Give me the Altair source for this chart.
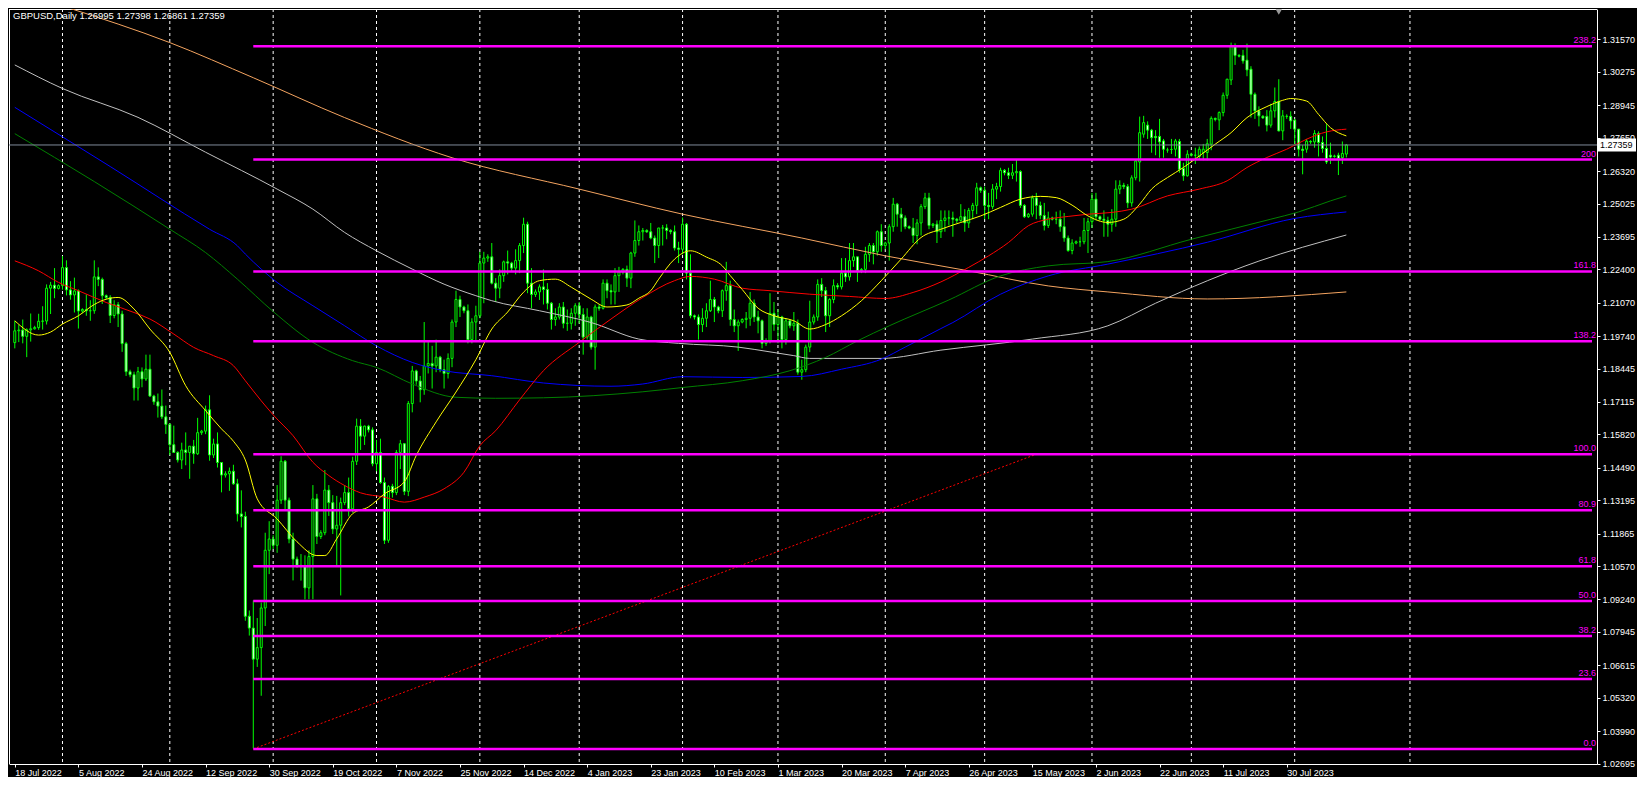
import altair as alt
import pandas as pd

# ---------------- data (one bar per trading day incl. Sunday bars) -------------
OPEN = [
 1.1948, 1.1995, 1.1998, 1.1973, 1.1999, 1.2003,
 1.2008, 1.2033, 1.2034, 1.2165, 1.2177, 1.2164,
 1.2175, 1.2247, 1.2158, 1.2138, 1.2154, 1.2074,
 1.2080, 1.2075, 1.2075, 1.2210, 1.2200, 1.2135,
 1.2128, 1.2056, 1.2099, 1.2062, 1.1944, 1.1832,
 1.1820, 1.1767, 1.1832, 1.1803, 1.1842, 1.1735,
 1.1712, 1.1695, 1.1652, 1.1622, 1.1541, 1.1510,
 1.1480, 1.1520, 1.1510, 1.1535, 1.1505, 1.1589,
 1.1595, 1.1680, 1.1500, 1.1544, 1.1470, 1.1420,
 1.1425, 1.1435, 1.1385, 1.1265, 1.1255, 1.0857,
 1.0810, 1.0686, 1.0732, 1.0890, 1.1120, 1.1165,
 1.1140, 1.1320, 1.1475, 1.1320, 1.1165, 1.1085,
 1.1060, 1.1055, 1.0970, 1.1095, 1.1325, 1.1175,
 1.1190, 1.1360, 1.1310, 1.1205, 1.1220, 1.1310,
 1.1350, 1.1285, 1.1475, 1.1615, 1.1575, 1.1615,
 1.1600, 1.1465, 1.1510, 1.1390, 1.1160, 1.1375,
 1.1350, 1.1510, 1.1545, 1.1355, 1.1705, 1.1835,
 1.1795, 1.1760, 1.1855, 1.1865, 1.1855, 1.1890,
 1.1840, 1.1825, 1.1885, 1.2030, 1.2120, 1.2090,
 1.2075, 1.1960, 1.2030, 1.2055, 1.2265, 1.2285,
 1.2290, 1.2185, 1.2165, 1.2215, 1.2270, 1.2265,
 1.2245, 1.2275, 1.2335, 1.2420, 1.2185, 1.2140,
 1.2150, 1.2170, 1.2160, 1.2105, 1.2040,
 1.2050, 1.2090, 1.2025, 1.2025, 1.2065,
 1.2095, 1.2060, 1.1970, 1.2050, 1.1930, 1.2090,
 1.2085, 1.2185, 1.2155, 1.2150, 1.2215, 1.2230,
 1.2240, 1.2205, 1.2305, 1.2355, 1.2390, 1.2395,
 1.2390, 1.2365, 1.2335, 1.2405, 1.2405, 1.2395,
 1.2390, 1.2325, 1.2320, 1.2420, 1.2225, 1.2055,
 1.2050, 1.2020, 1.2045, 1.2075, 1.2120, 1.2090,
 1.2075, 1.2155, 1.2175, 1.2040, 1.2015, 1.2030,
 1.2040, 1.2045, 1.2105, 1.2050, 1.2035, 1.1945,
 1.1955, 1.2065, 1.2020, 1.2050, 1.1960, 1.2035,
 1.2015, 1.2025, 1.1830, 1.1840, 1.1930, 1.2030,
 1.2050, 1.2180, 1.2155, 1.2055, 1.2120, 1.2175,
 1.2170, 1.2225, 1.2210, 1.2275, 1.2290, 1.2235,
 1.2240, 1.2300, 1.2335, 1.2310, 1.2390, 1.2335,
 1.2345, 1.2410, 1.2500, 1.2460, 1.2445, 1.2410,
 1.2405, 1.2375, 1.2425, 1.2490, 1.2525, 1.2415,
 1.2420, 1.2390, 1.2435, 1.2445, 1.2445, 1.2440,
 1.2435, 1.2450, 1.2425, 1.2475, 1.2495, 1.2565,
 1.2555, 1.2495, 1.2490, 1.2560, 1.2570, 1.2635,
 1.2625, 1.2615, 1.2625, 1.2630, 1.2495, 1.2450,
 1.2460, 1.2525, 1.2495, 1.2455, 1.2415, 1.2445,
 1.2440, 1.2440, 1.2410, 1.2365, 1.2315, 1.2345,
 1.2350, 1.2350, 1.2395, 1.2430, 1.2520, 1.2450,
 1.2440, 1.2435, 1.2420, 1.2440, 1.2560, 1.2575,
 1.2570, 1.2505, 1.2605, 1.2668, 1.2779,
 1.2815, 1.2795, 1.2770, 1.2770, 1.2752, 1.2716,
 1.2718, 1.2719, 1.2750, 1.2642, 1.2613, 1.2699,
 1.2695, 1.2690, 1.2706, 1.2706, 1.2739, 1.2842,
 1.2836, 1.2865, 1.2934, 1.2995, 1.3130, 1.3093,
 1.3093, 1.3074, 1.3038, 1.2938, 1.2872, 1.2850,
 1.2850, 1.2815, 1.2872, 1.2909, 1.2792, 1.2850,
 1.2850, 1.2835, 1.2799, 1.2719, 1.2719, 1.2750,
 1.2748, 1.2782, 1.2746, 1.2722, 1.2695, 1.2690,
 1.2695, 1.2685, 1.26995,
]
HIGH = [
 1.2035, 1.2018, 1.2040, 1.2005, 1.2064, 1.2015,
 1.2063, 1.2093, 1.2180, 1.2190, 1.2245, 1.2180,
 1.2293, 1.2276, 1.2193, 1.2207, 1.2160, 1.2085,
 1.2140, 1.2117, 1.2276, 1.2248, 1.2207, 1.2140,
 1.2137, 1.2117, 1.2110, 1.2075, 1.1951, 1.1840,
 1.1832, 1.1851, 1.1849, 1.1900, 1.1900, 1.1740,
 1.1745, 1.1761, 1.1697, 1.1626, 1.1617, 1.1515,
 1.1549, 1.1590, 1.1535, 1.1560, 1.1648, 1.1600,
 1.1697, 1.1738, 1.1565, 1.1590, 1.1470, 1.1435,
 1.1450, 1.1461, 1.1405, 1.1359, 1.1274, 1.0880,
 1.0920, 1.0850, 1.0912, 1.1190, 1.1236, 1.1180,
 1.1380, 1.1495, 1.1480, 1.1330, 1.1190, 1.1095,
 1.1105, 1.1100, 1.1120, 1.1380, 1.1345, 1.1200,
 1.1440, 1.1380, 1.1340, 1.1337, 1.1330, 1.1380,
 1.1410, 1.1493, 1.1645, 1.1643, 1.1617, 1.1620,
 1.1610, 1.1560, 1.1565, 1.1410, 1.1380, 1.1385,
 1.1520, 1.1560, 1.1548, 1.1715, 1.1855, 1.1840,
 1.1815, 1.2030, 1.1955, 1.1935, 1.1960, 1.1895,
 1.1880, 1.1905, 1.2040, 1.2155, 1.2135, 1.2095,
 1.2100, 1.2045, 1.2095, 1.2310, 1.2310, 1.2300,
 1.2345, 1.2205, 1.2240, 1.2275, 1.2315, 1.2270,
 1.2320, 1.2345, 1.2446, 1.2430, 1.2245, 1.2160,
 1.2180, 1.2240, 1.2185, 1.2110, 1.2085,
 1.2105, 1.2110, 1.2080, 1.2085, 1.2105,
 1.2110, 1.2085, 1.2085, 1.2055, 1.2100, 1.2100,
 1.2200, 1.2200, 1.2180, 1.2245, 1.2250, 1.2245,
 1.2255, 1.2310, 1.2435, 1.2415, 1.2405, 1.2400,
 1.2425, 1.2375, 1.2405, 1.2417, 1.2420, 1.2400,
 1.2415, 1.2350, 1.2447, 1.2425, 1.2300, 1.2060,
 1.2060, 1.2085, 1.2105, 1.2195, 1.2130, 1.2095,
 1.2160, 1.2270, 1.2195, 1.2080, 1.2040, 1.2045,
 1.2070, 1.2150, 1.2120, 1.2075, 1.2040, 1.1965,
 1.2145, 1.2110, 1.2080, 1.2055, 1.2045, 1.2040,
 1.2070, 1.2040, 1.1880, 1.1940, 1.2115, 1.2060,
 1.2200, 1.2205, 1.2170, 1.2125, 1.2200, 1.2185,
 1.2285, 1.2285, 1.2345, 1.2345, 1.2290, 1.2245,
 1.2330, 1.2345, 1.2345, 1.2395, 1.2420, 1.2350,
 1.2420, 1.2525, 1.2505, 1.2485, 1.2455, 1.2415,
 1.2445, 1.2440, 1.2500, 1.2545, 1.2545, 1.2425,
 1.2435, 1.2475, 1.2475, 1.2475, 1.2470, 1.2445,
 1.2500, 1.2480, 1.2485, 1.2505, 1.2585, 1.2570,
 1.2570, 1.2545, 1.2580, 1.2585, 1.2645, 1.2640,
 1.2645, 1.2660, 1.2680, 1.2635, 1.2500, 1.2465,
 1.2535, 1.2545, 1.2510, 1.2505, 1.2470, 1.2450,
 1.2470, 1.2475, 1.2465, 1.2375, 1.2360, 1.2355,
 1.2370, 1.2445, 1.2445, 1.2545, 1.2545, 1.2455,
 1.2475, 1.2450, 1.2480, 1.2595, 1.2595, 1.2585,
 1.2580, 1.2615, 1.2680, 1.2849, 1.2852,
 1.2830, 1.2800, 1.2795, 1.2840, 1.2760, 1.2725,
 1.2760, 1.2760, 1.2760, 1.2665, 1.2715, 1.2705,
 1.2725, 1.2730, 1.2740, 1.2760, 1.2850, 1.2845,
 1.2870, 1.2945, 1.3000, 1.3144, 1.3141, 1.3098,
 1.3115, 1.3140, 1.3050, 1.2945, 1.2890, 1.2855,
 1.2875, 1.2900, 1.2965, 1.2998, 1.2875, 1.2858,
 1.2870, 1.2840, 1.2800, 1.2735, 1.2760, 1.2755,
 1.2795, 1.2790, 1.2770, 1.2819, 1.2745, 1.2697,
 1.2705, 1.2750, 1.27398,
]
LOW = [
 1.1925, 1.1950, 1.1945, 1.1890, 1.1952, 1.2000,
 1.1999, 1.2000, 1.2020, 1.2062, 1.2125, 1.2160,
 1.2159, 1.2136, 1.2119, 1.2068, 1.2004, 1.2065,
 1.2055, 1.2035, 1.2063, 1.2173, 1.2102, 1.2120,
 1.2026, 1.2045, 1.2010, 1.1911, 1.1815, 1.1810,
 1.1717, 1.1717, 1.1770, 1.1795, 1.1731, 1.1700,
 1.1649, 1.1643, 1.1584, 1.1500, 1.1509, 1.1470,
 1.1444, 1.1459, 1.1405, 1.1465, 1.1500, 1.1580,
 1.1583, 1.1477, 1.1488, 1.1450, 1.1351, 1.1410,
 1.1357, 1.1381, 1.1235, 1.1211, 1.0839, 1.0780,
 1.0330, 1.0655, 1.0540, 1.0818, 1.1025, 1.1125,
 1.1110, 1.1305, 1.1283, 1.1148, 1.1000, 1.1050,
 1.0999, 1.0924, 1.0925, 1.0925, 1.1145, 1.1165,
 1.1180, 1.1257, 1.1185, 1.1060, 1.0940, 1.1300,
 1.1255, 1.1270, 1.1460, 1.1520, 1.1540, 1.1590,
 1.1455, 1.1435, 1.1385, 1.1145, 1.1150, 1.1330,
 1.1340, 1.1444, 1.1340, 1.1336, 1.1670, 1.1780,
 1.1710, 1.1740, 1.1825, 1.1765, 1.1830, 1.1830,
 1.1765, 1.1805, 1.1850, 1.2010, 1.2050, 1.2065,
 1.1945, 1.1945, 1.1950, 1.2045, 1.2105, 1.2270,
 1.2180, 1.2110, 1.2125, 1.2190, 1.2220, 1.2230,
 1.2220, 1.2225, 1.2305, 1.2145, 1.2085, 1.2130,
 1.2118, 1.2100, 1.2080, 1.2000, 1.2015,
 1.2040, 1.2005, 1.1995, 1.2000, 1.2015,
 1.2025, 1.1900, 1.1960, 1.1920, 1.1840, 1.2075,
 1.2080, 1.2125, 1.2100, 1.2100, 1.2150, 1.2220,
 1.2170, 1.2165, 1.2290, 1.2335, 1.2355, 1.2385,
 1.2360, 1.2265, 1.2285, 1.2335, 1.2360, 1.2380,
 1.2315, 1.2265, 1.2300, 1.2200, 1.2045, 1.2040,
 1.1960, 1.1990, 1.2010, 1.2070, 1.2030, 1.2065,
 1.2050, 1.2115, 1.2015, 1.1990, 1.1915, 1.2025,
 1.2005, 1.2015, 1.2030, 1.1985, 1.1925, 1.1935,
 1.1945, 1.1995, 1.1945, 1.1925, 1.1940, 1.2005,
 1.1995, 1.1820, 1.1800, 1.1830, 1.1910, 1.2020,
 1.2035, 1.2130, 1.1990, 1.2010, 1.2105, 1.2160,
 1.2160, 1.2190, 1.2195, 1.2250, 1.2190, 1.2225,
 1.2225, 1.2270, 1.2260, 1.2295, 1.2310, 1.2320,
 1.2275, 1.2390, 1.2410, 1.2390, 1.2400, 1.2400,
 1.2345, 1.2340, 1.2375, 1.2480, 1.2400, 1.2405,
 1.2345, 1.2365, 1.2390, 1.2415, 1.2370, 1.2425,
 1.2430, 1.2390, 1.2405, 1.2440, 1.2460, 1.2545,
 1.2440, 1.2440, 1.2480, 1.2520, 1.2550, 1.2615,
 1.2600, 1.2600, 1.2590, 1.2485, 1.2445, 1.2445,
 1.2450, 1.2440, 1.2440, 1.2395, 1.2405, 1.2435,
 1.2420, 1.2390, 1.2350, 1.2310, 1.2300, 1.2340,
 1.2330, 1.2340, 1.2305, 1.2405, 1.2435, 1.2435,
 1.2370, 1.2370, 1.2390, 1.2410, 1.2540, 1.2560,
 1.2485, 1.2490, 1.2595, 1.2590, 1.2765,
 1.2760, 1.2705, 1.2695, 1.2685, 1.2685, 1.2705,
 1.2700, 1.2690, 1.2625, 1.2593, 1.2610, 1.2690,
 1.2660, 1.2680, 1.2675, 1.2675, 1.2715, 1.2830,
 1.2795, 1.2850, 1.2920, 1.2975, 1.3055, 1.3085,
 1.3060, 1.3010, 1.2845, 1.2840, 1.2810, 1.2840,
 1.2790, 1.2805, 1.2845, 1.2790, 1.2755, 1.2840,
 1.2800, 1.2740, 1.2690, 1.2619, 1.2705, 1.2740,
 1.2725, 1.2690, 1.2705, 1.2660, 1.2660, 1.2685,
 1.2616, 1.2660, 1.26861,
]
CLOSE = [
 1.1995, 1.1998, 1.1973, 1.1999, 1.2003, 1.2008,
 1.2033, 1.2034, 1.2165, 1.2177, 1.2164, 1.2175,
 1.2247, 1.2158, 1.2138, 1.2154, 1.2074, 1.2080,
 1.2075, 1.2075, 1.2210, 1.2200, 1.2135, 1.2128,
 1.2056, 1.2099, 1.2062, 1.1944, 1.1832, 1.1820,
 1.1767, 1.1832, 1.1803, 1.1842, 1.1735, 1.1712,
 1.1695, 1.1652, 1.1622, 1.1541, 1.1510, 1.1480,
 1.1520, 1.1510, 1.1535, 1.1505, 1.1589, 1.1595,
 1.1680, 1.1500, 1.1544, 1.1470, 1.1420, 1.1425,
 1.1435, 1.1385, 1.1265, 1.1255, 1.0857, 1.0810,
 1.0686, 1.0732, 1.0890, 1.1120, 1.1165, 1.1140,
 1.1320, 1.1475, 1.1320, 1.1165, 1.1085, 1.1060,
 1.1055, 1.0970, 1.1095, 1.1325, 1.1175, 1.1190,
 1.1360, 1.1310, 1.1205, 1.1220, 1.1310, 1.1350,
 1.1285, 1.1475, 1.1615, 1.1575, 1.1615, 1.1600,
 1.1465, 1.1510, 1.1390, 1.1160, 1.1375, 1.1350,
 1.1510, 1.1545, 1.1355, 1.1705, 1.1835, 1.1795,
 1.1760, 1.1855, 1.1865, 1.1855, 1.1890, 1.1840,
 1.1825, 1.1885, 1.2030, 1.2120, 1.2090, 1.2075,
 1.1960, 1.2030, 1.2055, 1.2265, 1.2285, 1.2290,
 1.2185, 1.2165, 1.2215, 1.2270, 1.2265, 1.2245,
 1.2275, 1.2335, 1.2420, 1.2185, 1.2140, 1.2150,
 1.2170, 1.2160, 1.2105, 1.2040, 1.2050,
 1.2090, 1.2025, 1.2025, 1.2065, 1.2095,
 1.2060, 1.1970, 1.2050, 1.1930, 1.2090, 1.2085,
 1.2185, 1.2155, 1.2150, 1.2215, 1.2230, 1.2240,
 1.2205, 1.2305, 1.2355, 1.2390, 1.2395, 1.2390,
 1.2365, 1.2335, 1.2405, 1.2405, 1.2395, 1.2390,
 1.2325, 1.2320, 1.2420, 1.2225, 1.2055, 1.2050,
 1.2020, 1.2045, 1.2075, 1.2120, 1.2090, 1.2075,
 1.2155, 1.2175, 1.2040, 1.2015, 1.2030, 1.2040,
 1.2045, 1.2105, 1.2050, 1.2035, 1.1945, 1.1955,
 1.2065, 1.2020, 1.2050, 1.1960, 1.2035, 1.2015,
 1.2025, 1.1830, 1.1840, 1.1930, 1.2030, 1.2050,
 1.2180, 1.2155, 1.2055, 1.2120, 1.2175, 1.2170,
 1.2225, 1.2210, 1.2275, 1.2290, 1.2235, 1.2240,
 1.2300, 1.2335, 1.2310, 1.2390, 1.2335, 1.2345,
 1.2410, 1.2500, 1.2460, 1.2445, 1.2410, 1.2405,
 1.2375, 1.2425, 1.2490, 1.2525, 1.2415, 1.2420,
 1.2390, 1.2435, 1.2445, 1.2445, 1.2440, 1.2435,
 1.2450, 1.2425, 1.2475, 1.2495, 1.2565, 1.2555,
 1.2495, 1.2490, 1.2560, 1.2570, 1.2635, 1.2625,
 1.2615, 1.2625, 1.2630, 1.2495, 1.2450, 1.2460,
 1.2525, 1.2495, 1.2455, 1.2415, 1.2445, 1.2440,
 1.2440, 1.2410, 1.2365, 1.2315, 1.2345, 1.2350,
 1.2350, 1.2395, 1.2430, 1.2520, 1.2450, 1.2440,
 1.2435, 1.2420, 1.2440, 1.2560, 1.2575, 1.2570,
 1.2505, 1.2605, 1.2672, 1.2785, 1.2825,
 1.2795, 1.2765, 1.2765, 1.2748, 1.2719, 1.2716,
 1.2718, 1.2752, 1.2639, 1.2613, 1.2699, 1.2695,
 1.2695, 1.2719, 1.2719, 1.2741, 1.2842, 1.2838,
 1.2865, 1.2934, 1.2998, 1.3130, 1.3093, 1.3090,
 1.3071, 1.3035, 1.2938, 1.2872, 1.2852, 1.2844,
 1.2815, 1.2872, 1.2909, 1.2792, 1.2852, 1.2850,
 1.2832, 1.2799, 1.2719, 1.2714, 1.2751, 1.2748,
 1.2782, 1.2746, 1.2722, 1.2668, 1.2688, 1.2692,
 1.2682, 1.2702, 1.27359,
]

# moving averages: vertices (bar index, price)
YELLOW_BAR = [0, 6, 9, 12, 16, 20, 23, 26, 30, 34, 39, 43, 48, 52, 55, 58, 61, 66, 71, 76, 78, 81, 85, 89, 93,
              98, 101, 106, 111, 116, 120, 124, 128, 132, 136, 140, 145, 149, 154, 157, 160, 162, 166, 170, 174,
              178, 180, 183, 187, 191, 196, 200, 204, 208, 213, 218, 223, 228, 233, 238, 243, 248, 253, 258, 262,
              266, 270, 275, 279, 283, 286, 290, 294, 298, 302, 306, 310, 315, 319, 321, 325, 328, 331, 335]
YELLOW_PRICE = [1.2035, 1.1978, 1.1990, 1.2022, 1.2055, 1.2100, 1.2121, 1.2128, 1.2082, 1.2002, 1.1909, 1.1776,
                1.1677, 1.1604, 1.1555, 1.1480, 1.1325, 1.1245, 1.1154, 1.1099, 1.1099, 1.1166, 1.1266, 1.1293,
                1.1345, 1.1393, 1.1498, 1.1632, 1.1751, 1.1880, 1.2002, 1.2070, 1.2149, 1.2195, 1.2201, 1.2169,
                1.2121, 1.2090, 1.2098, 1.2125, 1.2155, 1.2201, 1.2281, 1.2314, 1.2289, 1.2254, 1.2215, 1.2160,
                1.2085, 1.2055, 1.2035, 1.2002, 1.2020, 1.2055, 1.2115, 1.2195, 1.2281, 1.2367, 1.2400, 1.2427,
                1.2453, 1.2487, 1.2520, 1.2531, 1.2526, 1.2496, 1.2453, 1.2427, 1.2440, 1.2500, 1.2560, 1.2606,
                1.2646, 1.2692, 1.2739, 1.2785, 1.2845, 1.2889, 1.2914, 1.2921, 1.2911, 1.2858, 1.2805, 1.2772]
RED_BAR = [0, 6, 11, 16, 23, 30, 34, 40, 45, 50, 55, 58, 62, 65, 70, 75, 79, 83, 87, 93, 98, 103, 108, 113, 117,
           121, 127, 133, 142, 150, 158, 166, 170, 176, 183, 190, 200, 210, 219, 226, 233, 240, 245, 250, 255,
           260, 265, 270, 276, 281, 290, 298, 305, 310, 315, 320, 325, 330, 335]
RED_PRICE = [1.2274, 1.2234, 1.2188, 1.2155, 1.2108, 1.2068, 1.2042, 1.1982, 1.1929, 1.1896, 1.1856, 1.1796,
             1.1716, 1.1660, 1.1577, 1.1471, 1.1418, 1.1378, 1.1349, 1.1332, 1.1312, 1.1332, 1.1365, 1.1431,
             1.1537, 1.1597, 1.1720, 1.1836, 1.1949, 1.2042, 1.2128, 1.2195, 1.2212, 1.2201, 1.2165, 1.2155,
             1.2141, 1.2132, 1.2124, 1.2148, 1.2190, 1.2248, 1.2294, 1.2347, 1.2414, 1.2440, 1.2451, 1.2460,
             1.2467, 1.2480, 1.2533, 1.2560, 1.2593, 1.2646, 1.2686, 1.2719, 1.2759, 1.2788, 1.2799]
GREEN_BAR = [0, 20, 39, 48, 56, 65, 75, 85, 91, 100, 111, 121, 133, 158, 168, 183, 195, 204, 212, 220, 235, 248,
             260, 275, 296, 316, 323, 331, 335]
GREEN_PRICE = [1.2781, 1.2590, 1.2400, 1.2307, 1.2201, 1.2072, 1.1949, 1.1876, 1.1849, 1.1783, 1.1730, 1.1726,
               1.1728, 1.1752, 1.1769, 1.1796, 1.1836, 1.1889, 1.1955, 1.2015, 1.2118, 1.2214, 1.2254, 1.2271,
               1.2360, 1.2440, 1.2469, 1.2513, 1.2533]
BLUE_BAR = [0, 24, 49, 56, 58, 66, 75, 83, 91, 100, 108, 120, 133, 150, 158, 168, 183, 198, 208, 218, 224, 233,
            236, 248, 260, 275, 300, 322, 335]
BLUE_PRICE = [1.2886, 1.2650, 1.2400, 1.2334, 1.2301, 1.2188, 1.2095, 1.2015, 1.1935, 1.1869, 1.1836, 1.1816,
              1.1787, 1.1774, 1.1783, 1.1812, 1.1809, 1.1813, 1.1842, 1.1882, 1.1930, 1.2004, 1.2028, 1.2141,
              1.2214, 1.2261, 1.2348, 1.2443, 1.2469]
WHITE_BAR = [0, 12, 31, 48, 66, 75, 83, 91, 100, 108, 116, 120, 132, 145, 157, 167, 182, 190, 196, 200, 218, 233,
             256, 275, 287, 313, 335]
WHITE_PRICE = [1.3055, 1.2961, 1.2846, 1.2707, 1.2560, 1.2480, 1.2387, 1.2314, 1.2241, 1.2181, 1.2135, 1.2115,
               1.2075, 1.2028, 1.1962, 1.1945, 1.1930, 1.1911, 1.1896, 1.1885, 1.1885, 1.1918, 1.1962, 1.2015,
               1.2105, 1.2273, 1.2377]
ORANGE_BAR = [13, 39, 60, 83, 110, 142, 168, 198, 219, 240, 260, 275, 300, 335]
ORANGE_PRICE = [1.3285, 1.3144, 1.3004, 1.2845, 1.2685, 1.2560, 1.2460, 1.2365, 1.2294, 1.2234, 1.2174, 1.2150,
                1.2122, 1.2150]

# Fibonacci object
FIB_LABELS = ["0.0", "23.6", "38.2", "50.0", "61.8", "80.9", "100.0", "138.2", "161.8", "200", "238.2"]
FIB_PRICES = [1.03280, 1.06068, 1.07781, 1.09175, 1.10568, 1.12800, 1.15030, 1.19530, 1.22318, 1.26779, 1.31291]
FIB_START_BAR = 60
TREND_BAR = [60, 257]
TREND_PRICE = [1.0328, 1.1503]

# axes
DATE_LABELS = ["18 Jul 2022", "5 Aug 2022", "24 Aug 2022", "12 Sep 2022", "30 Sep 2022", "19 Oct 2022",
               "7 Nov 2022", "25 Nov 2022", "14 Dec 2022", "4 Jan 2023", "23 Jan 2023", "10 Feb 2023",
               "1 Mar 2023", "20 Mar 2023", "7 Apr 2023", "26 Apr 2023", "15 May 2023", "2 Jun 2023",
               "22 Jun 2023", "11 Jul 2023", "30 Jul 2023"]
DATE_BARS = [0, 16, 32, 48, 64, 80, 96, 112, 128, 144, 160, 176, 192, 208, 224, 240, 256, 272, 288, 304, 320]
MONTH_START_BARS = [12, 39, 65, 91, 117, 142, 168, 192, 219, 244, 271, 296, 322, 351]
PRICE_TICKS = [1.02695, 1.03990, 1.05320, 1.06615, 1.07945, 1.09240, 1.10570, 1.11865, 1.13195, 1.14490,
               1.15820, 1.17115, 1.18445, 1.19740, 1.21070, 1.22400, 1.23695, 1.25025, 1.26320, 1.27650,
               1.28945, 1.30275, 1.31570]
LAST_PRICE = 1.27359
LAST_TEXT = "1.27359"
HEADER = "GBPUSD,Daily  1.26995 1.27398 1.26861 1.27359"
SHIFT_BAR = 318

# ---------------- layout ----------------
W, H = 1588, 755
XMIN, XMAX = -0.2, 396.8
YMIN, YMAX = 1.0268, 1.3278
FONT = "Liberation Sans"

n = len(CLOSE)
assert len(OPEN) == len(HIGH) == len(LOW) == n == 336, (len(OPEN), len(HIGH), len(LOW), n)

bars = pd.DataFrame({"i": list(range(n)), "o": OPEN, "h": HIGH, "l": LOW, "c": CLOSE})
bars["dir"] = ["up" if c >= o else "down" for o, c in zip(OPEN, CLOSE)]

xs = alt.Scale(domain=[XMIN, XMAX], nice=False, zero=False)
ys = alt.Scale(domain=[YMIN, YMAX], nice=False, zero=False)

label_expr = "[" + ",".join("'%s'" % d for d in DATE_LABELS) + "][round(datum.value/16)]"

x_axis = alt.Axis(values=DATE_BARS, labelExpr=label_expr, orient="bottom", labelAlign="left",
                  labelBaseline="top", tickSize=3, labelPadding=1, labelFlush=False, labelOverlap=False,
                  labelBound=False, grid=False, title=None, domainColor="white", tickColor="white",
                  labelColor="white", labelFont=FONT, labelFontSize=9, domainWidth=1, tickWidth=1)
y_axis = alt.Axis(values=PRICE_TICKS, format=".5f", orient="right", tickSize=3, labelPadding=2, grid=False,
                  title=None, domainColor="white", tickColor="white", labelColor="white", labelFont=FONT,
                  labelFontSize=9, labelOverlap=False, labelFlush=False, labelBound=False,
                  domainWidth=1, tickWidth=1)


def X(f):
    return alt.X(f, type="quantitative", scale=xs, axis=x_axis)


def Y(f):
    return alt.Y(f, type="quantitative", scale=ys, axis=y_axis)


layers = []

# plot frame: top and left edges (bottom/right come from the axis domains)
frame_df = pd.DataFrame({"k": [0]})
layers.append(alt.Chart(frame_df).mark_rule(color="white", strokeWidth=1).encode(
    x=alt.value(0), x2=alt.value(W), y=alt.value(0.5)))
layers.append(alt.Chart(frame_df).mark_rule(color="white", strokeWidth=1).encode(
    x=alt.value(0.5), y=alt.value(0), y2=alt.value(H)))

# vertical dashed grid at month starts
grid_df = pd.DataFrame({"b": MONTH_START_BARS})
layers.append(alt.Chart(grid_df).mark_rule(color="white", strokeDash=[3, 3], strokeWidth=1)
              .encode(x=X("b")))

# candle wicks
layers.append(alt.Chart(bars).mark_rule(color="#00FF00", strokeWidth=1, clip=True).encode(
    x=X("i"), y=Y("l"), y2="h:Q"))

# candle bodies
layers.append(alt.Chart(bars).mark_bar(size=2, stroke="#00FF00", strokeWidth=1, clip=True).encode(
    x=X("i"), y=Y("o"), y2="c:Q",
    fill=alt.Fill("dir:N", scale=alt.Scale(domain=["up", "down"], range=["#000000", "#FFFFFF"]), legend=None)))


def ma_layer(bx, px, color):
    df = pd.DataFrame({"b": bx, "p": px})
    return alt.Chart(df).mark_line(color=color, strokeWidth=1, clip=True, interpolate="monotone").encode(
        x=X("b"), y=Y("p"))


layers.append(ma_layer(ORANGE_BAR, ORANGE_PRICE, "#F4A460"))
layers.append(ma_layer(WHITE_BAR, WHITE_PRICE, "#C0C0C0"))
layers.append(ma_layer(BLUE_BAR, BLUE_PRICE, "#0000FF"))
layers.append(ma_layer(GREEN_BAR, GREEN_PRICE, "#008000"))
layers.append(ma_layer(RED_BAR, RED_PRICE, "#FF0000"))
layers.append(ma_layer(YELLOW_BAR, YELLOW_PRICE, "#FFFF00"))

# fib trend line (dotted red)
trend_df = pd.DataFrame({"b": TREND_BAR, "p": TREND_PRICE})
layers.append(alt.Chart(trend_df).mark_line(color="#FF0000", strokeWidth=1, strokeDash=[2, 2], clip=True)
              .encode(x=X("b"), y=Y("p")))

# fib levels
fib_df = pd.DataFrame({"p": FIB_PRICES, "lab": FIB_LABELS,
                       "x0": [FIB_START_BAR] * len(FIB_PRICES), "x1": [XMAX] * len(FIB_PRICES)})
layers.append(alt.Chart(fib_df).mark_rule(color="#FF00FF", strokeWidth=2.5, clip=True).encode(
    x=X("x0"), x2="x1:Q", y=Y("p")))
layers.append(alt.Chart(fib_df).mark_text(align="right", baseline="alphabetic", dy=-3, color="#FF00FF",
                                          font=FONT, fontSize=9).encode(
    x=alt.value(W - 1), y=Y("p"), text="lab:N"))

# current price line + box
last_df = pd.DataFrame({"p": [LAST_PRICE], "t": [LAST_TEXT]})
layers.append(alt.Chart(last_df).mark_rule(color="#7F8B99", strokeWidth=1).encode(y=Y("p")))
layers.append(alt.Chart(last_df).mark_tick(orient="horizontal", color="white", thickness=13, size=38,
                                           opacity=1, filled=True).encode(
    x=alt.value(W + 20), y=Y("p")))
layers.append(alt.Chart(last_df).mark_text(align="left", baseline="middle", color="black", font=FONT,
                                           fontSize=9).encode(
    x=alt.value(W + 3), y=Y("p"), text="t:N"))

# header
head_df = pd.DataFrame({"t": [HEADER]})
layers.append(alt.Chart(head_df).mark_text(align="left", baseline="alphabetic", color="white", font=FONT,
                                           fontSize=9.5).encode(
    x=alt.value(4), y=alt.value(10), text="t:N"))

# chart-shift marker
shift_df = pd.DataFrame({"b": [SHIFT_BAR]})
layers.append(alt.Chart(shift_df).mark_point(shape="triangle-down", filled=True, color="#9A9A9A", size=40,
                                             opacity=1).encode(
    x=X("b"), y=alt.value(3)))

chart = alt.layer(*layers).properties(
    width=W, height=H, background="black",
    padding={"left": 1, "top": 1, "right": 40, "bottom": 13},
    autosize=alt.AutoSizeParams(type="none"),
).configure_view(stroke="black", strokeWidth=0, fill="black")

chart.save("out.html", embed_options={"renderer": "svg", "actions": False})
